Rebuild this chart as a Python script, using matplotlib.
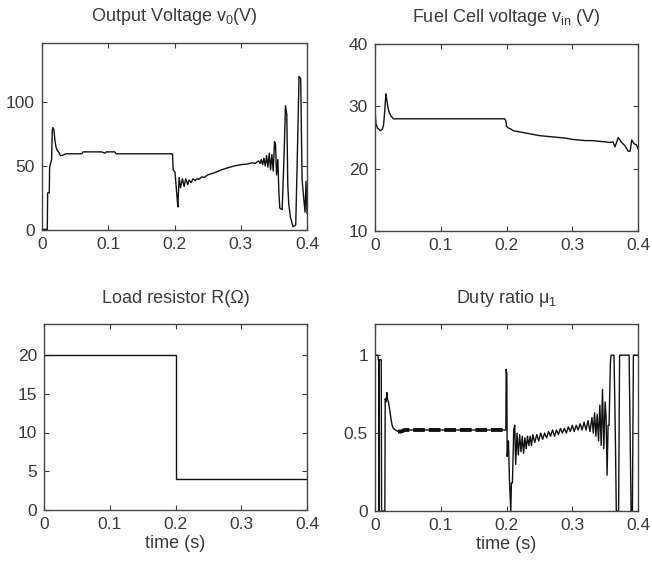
import matplotlib
matplotlib.use("Agg")
import matplotlib.pyplot as plt

plt.rcParams['font.family'] = ['Liberation Sans', 'DejaVu Sans']
plt.rcParams['mathtext.default'] = 'regular'

# output voltage v0 (V)
t_v0 = [0, 0.008, 0.0085, 0.011, 0.0115, 0.013, 0.0145, 0.0155, 0.0165, 0.018, 0.0195,
        0.021, 0.023, 0.025, 0.028, 0.032, 0.036, 0.06, 0.062, 0.09, 0.095, 0.097, 0.11,
        0.112, 0.197, 0.198, 0.2008, 0.203, 0.205, 0.2055, 0.207, 0.209, 0.212, 0.2145,
        0.217, 0.22, 0.222, 0.225, 0.228, 0.231, 0.234, 0.237, 0.241, 0.245, 0.25, 0.256,
        0.262, 0.271, 0.28, 0.29, 0.3, 0.31, 0.317, 0.322, 0.327, 0.329, 0.331, 0.333,
        0.335, 0.337, 0.339, 0.341, 0.343, 0.345, 0.347, 0.349, 0.351, 0.3525, 0.354,
        0.356, 0.3575, 0.359, 0.3625, 0.3655, 0.3675, 0.3695, 0.371, 0.3725, 0.375, 0.379,
        0.383, 0.3855, 0.388, 0.3905, 0.3925, 0.395, 0.397, 0.3985, 0.4]
v0 = [0.5, 0.5, 29, 29, 49, 52, 55, 78, 80, 78, 70,
      65, 62, 61, 58, 58.5, 59.5, 59.5, 61, 61, 60, 61, 61,
      59.5, 59.5, 47, 45, 31, 18, 24, 41, 33, 40, 34,
      40, 35.5, 39, 37, 40, 38.5, 40, 39.5, 41.5, 41, 43, 44,
      45, 47, 48.5, 50, 51, 51.5, 52.5, 52, 54, 52, 55, 51,
      56, 50, 58, 49, 60, 47, 59, 46, 69, 67, 43,
      55, 30, 17, 16, 60, 97, 90, 35, 20, 10, 2.5,
      4, 60, 120, 118, 40, 25, 14, 38, 13]

# fuel cell voltage vin (V)
t_vin = [0, 0.0015, 0.004, 0.008, 0.011, 0.013, 0.015, 0.0165, 0.018, 0.0195, 0.021,
         0.024, 0.028, 0.197, 0.199, 0.2, 0.203, 0.206, 0.21, 0.22, 0.23, 0.24, 0.25,
         0.26, 0.27, 0.28, 0.29, 0.3, 0.31, 0.32, 0.33, 0.34, 0.35, 0.357, 0.362, 0.365,
         0.37, 0.375, 0.38, 0.385, 0.388, 0.3905, 0.394, 0.398, 0.4]
vin = [29.5, 27.2, 26.5, 26.1, 26.3, 27.0, 29.5, 32.0, 31.0, 30.0, 29.2,
       28.5, 28.0, 28.0, 27.7, 26.8, 26.5, 26.4, 26.1, 25.9, 25.7, 25.5, 25.3,
       25.2, 25.1, 25.0, 24.9, 24.7, 24.6, 24.5, 24.5, 24.4, 24.3, 24.2, 24.3, 23.5,
       25.0, 24.2, 23.7, 22.8, 22.8, 24.6, 24.0, 23.8, 23.2]

# load resistor R (Ohm)
t_R = [0, 0.2, 0.2, 0.4]
R = [20, 20, 4, 4]

# duty ratio mu1
t_mu = [0, 0.0045, 0.005, 0.0058, 0.006, 0.0065, 0.0095, 0.010, 0.015, 0.0155, 0.017,
        0.018, 0.019, 0.0205, 0.022, 0.024, 0.026, 0.028, 0.031, 0.035, 0.04, 0.045,
        0.199, 0.1995, 0.2005, 0.201, 0.203, 0.2045, 0.2065, 0.2075, 0.209, 0.211,
        0.2125, 0.214, 0.216, 0.218, 0.22, 0.222, 0.224, 0.226, 0.228, 0.23, 0.232,
        0.234, 0.236, 0.238, 0.24, 0.243, 0.246, 0.249, 0.252, 0.255, 0.258, 0.261,
        0.264, 0.267, 0.27, 0.273, 0.276, 0.279, 0.282, 0.285, 0.288, 0.291, 0.294,
        0.297, 0.3, 0.303, 0.306, 0.309, 0.312, 0.315, 0.318, 0.321, 0.324, 0.327,
        0.33, 0.332, 0.334, 0.336, 0.338, 0.34, 0.342, 0.344, 0.346, 0.348, 0.35,
        0.3515, 0.353, 0.3545, 0.356, 0.358, 0.359, 0.3635, 0.3655, 0.367, 0.3705,
        0.372, 0.3865, 0.388, 0.3895, 0.3915, 0.392, 0.393, 0.4]
mu = [1.0, 1.0, 0.97, 0.97, 0.0, 0.97, 0.97, 0.0, 0.0, 0.72, 0.70,
      0.76, 0.72, 0.70, 0.66, 0.60, 0.55, 0.53, 0.52, 0.51, 0.51, 0.52,
      0.52, 0.91, 0.88, 0.35, 0.45, 0.20, 0.0, 0.18, 0.18, 0.52,
      0.55, 0.30, 0.50, 0.36, 0.49, 0.38, 0.48, 0.37, 0.47, 0.40, 0.48,
      0.42, 0.48, 0.42, 0.49, 0.44, 0.49, 0.45, 0.50, 0.46, 0.50, 0.47,
      0.51, 0.48, 0.52, 0.48, 0.52, 0.49, 0.53, 0.50, 0.53, 0.50, 0.54,
      0.51, 0.55, 0.51, 0.55, 0.52, 0.56, 0.52, 0.57, 0.52, 0.58, 0.51,
      0.60, 0.50, 0.63, 0.48, 0.62, 0.45, 0.68, 0.42, 0.78, 0.40, 0.70,
      0.60, 0.23, 0.55, 0.55, 0.95, 1.0, 1.0, 0.5, 0.0, 0.0,
      1.0, 1.0, 0.5, 0.0, 0.0, 0.35, 1.0, 1.0]

xticks = [0, 0.1, 0.2, 0.3, 0.4]
txt = '#3a3a3a'

fig = plt.figure(figsize=(6.52, 5.64), dpi=100)
W, H = 652, 564


def make_axes(x0, x1, y0, y1):
    ax = fig.add_axes([x0 / W, 1 - y1 / H, (x1 - x0) / W, (y1 - y0) / H])
    ax.tick_params(direction='in', top=True, right=True, length=3.5, width=0.8,
                   labelsize=12.5, colors=txt, pad=5)
    for s in ax.spines.values():
        s.set_color('#444444')
        s.set_linewidth(1.0)
    ax.set_xlim(0, 0.4)
    ax.set_xticks(xticks)
    ax.set_xticklabels(['0', '0.1', '0.2', '0.3', '0.4'])
    return ax


ax1 = make_axes(42, 307, 43, 230)
ax1.plot(t_v0, v0, color='#111111', lw=1.0)
ax1.set_ylim(0, 146)
ax1.set_yticks([0, 50, 100])
ax1.set_title('Output Voltage $v_0$(V)', fontsize=13, color=txt, pad=16)

ax2 = make_axes(375, 638, 44, 231)
ax2.plot(t_vin, vin, color='#111111', lw=1.0)
ax2.set_ylim(10, 40)
ax2.set_yticks([10, 20, 30, 40])
ax2.set_title('Fuel Cell voltage $v_{in}$ (V)', fontsize=13, color=txt, pad=16)

ax3 = make_axes(44, 307, 324, 510)
ax3.plot(t_R, R, color='#111111', lw=1.0)
ax3.set_ylim(0, 24)
ax3.set_yticks([0, 5, 10, 15, 20])
ax3.set_title('Load resistor R(Ω)', fontsize=13, color=txt, pad=15)
ax3.set_xlabel('time (s)', fontsize=13, color=txt, labelpad=2)

ax4 = make_axes(375, 638, 324, 511)
ax4.plot(t_mu, mu, color='#111111', lw=1.0)
# thick ripple band on the steady part
i0, i1 = t_mu.index(0.035), t_mu.index(0.199)
ax4.plot(t_mu[i0:i1 + 1], mu[i0:i1 + 1], color='#111111', lw=2.8,
         linestyle=(0, (3, 1)))
ax4.set_ylim(0, 1.2)
ax4.set_yticks([0, 0.5, 1])
ax4.set_yticklabels(['0', '0.5', '1'])
ax4.set_title('Duty ratio $\\mu_1$', fontsize=13, color=txt, pad=15)
ax4.set_xlabel('time (s)', fontsize=13, color=txt, labelpad=2)

fig.savefig('out.png', dpi=100, facecolor='white')
